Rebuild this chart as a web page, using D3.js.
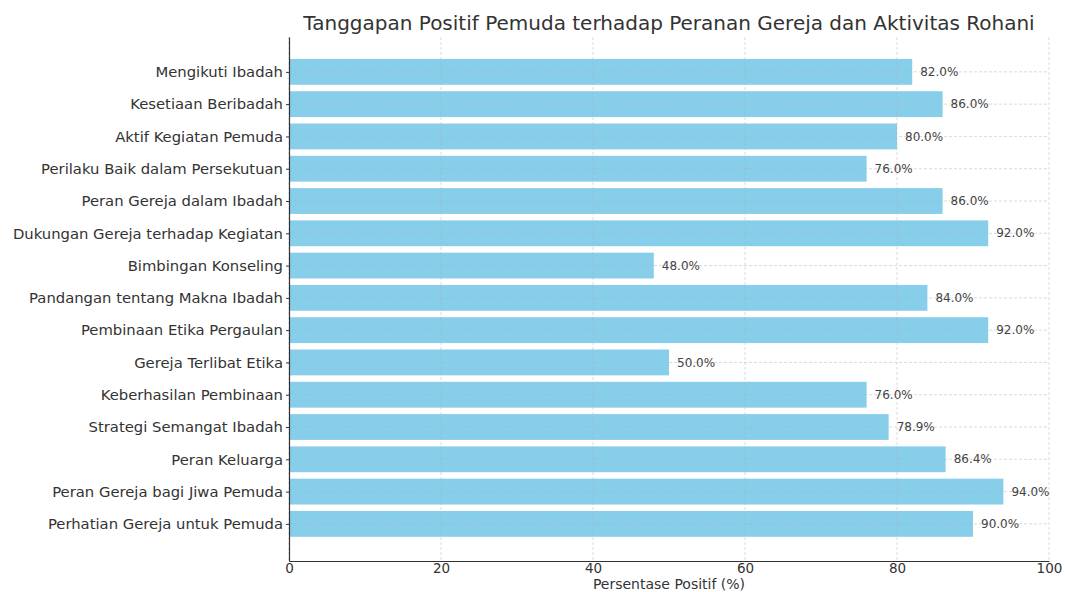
<!DOCTYPE html>
<html>
<head>
<meta charset="utf-8">
<script src="https://cdn.jsdelivr.net/npm/d3@7"></script>
<style>
  body { margin: 0; background: #fff; }
  svg, svg text { font-family: "DejaVu Sans", sans-serif; }
</style>
</head>
<body>
<svg id="chart" width="1065" height="592"></svg>
<script>
const categories = [
  "Mengikuti Ibadah",
  "Kesetiaan Beribadah",
  "Aktif Kegiatan Pemuda",
  "Perilaku Baik dalam Persekutuan",
  "Peran Gereja dalam Ibadah",
  "Dukungan Gereja terhadap Kegiatan",
  "Bimbingan Konseling",
  "Pandangan tentang Makna Ibadah",
  "Pembinaan Etika Pergaulan",
  "Gereja Terlibat Etika",
  "Keberhasilan Pembinaan",
  "Strategi Semangat Ibadah",
  "Peran Keluarga",
  "Peran Gereja bagi Jiwa Pemuda",
  "Perhatian Gereja untuk Pemuda"
];
const values = [82.0, 86.0, 80.0, 76.0, 86.0, 92.0, 48.0, 84.0, 92.0, 50.0, 76.0, 78.9, 86.4, 94.0, 90.0];
const xTicks = [0, 20, 40, 60, 80, 100];

const margin = {top: 37, right: 16, bottom: 31, left: 289};
const svg = d3.select("#chart");
const width = +svg.attr("width");
const height = +svg.attr("height");
const font = "DejaVu Sans, sans-serif";

const data = categories.map((c, i) => ({name: c, value: values[i], idx: i}));

const x = d3.scaleLinear().domain([0, 100]).range([margin.left, width - margin.right]);
const y = d3.scaleLinear().domain([-1.08, categories.length - 1 + 1.15]).range([margin.top, height - margin.bottom]);
const barH = 0.8;

// bars
svg.append("g").selectAll("rect")
  .data(data)
  .join("rect")
  .attr("x", x(0))
  .attr("y", d => y(d.idx - barH / 2))
  .attr("width", d => x(d.value) - x(0))
  .attr("height", d => y(d.idx + barH / 2) - y(d.idx - barH / 2))
  .attr("fill", "#87ceeb");

// grid on top
const grid = svg.append("g").attr("stroke", "#b0b0b0").attr("stroke-opacity", 0.6)
  .attr("stroke-dasharray", "3,2").attr("stroke-width", 0.8);
grid.selectAll(".gx").data(xTicks).join("line")
  .attr("x1", d => x(d)).attr("x2", d => x(d))
  .attr("y1", margin.top).attr("y2", height - margin.bottom);
grid.selectAll(".gy").data(data).join("line")
  .attr("x1", x(0)).attr("x2", x(100))
  .attr("y1", d => y(d.idx)).attr("y2", d => y(d.idx));

// value labels
svg.append("g").selectAll("text")
  .data(data)
  .join("text")
  .attr("x", d => x(d.value) + 8)
  .attr("y", d => y(d.idx))
  .attr("dy", "0.35em")
  .attr("font-family", font)
  .attr("font-size", 12)
  .attr("fill", "#444")
  .text(d => d.value.toFixed(1) + "%");

// x axis
const xAxis = svg.append("g")
  .attr("transform", `translate(0,${height - margin.bottom})`)
  .attr("font-family", font)
  .call(d3.axisBottom(x).tickValues(xTicks).tickSize(0).tickPadding(2).tickSizeOuter(0));
xAxis.selectAll("text").attr("font-size", 13.5).attr("fill", "#333");

// y axis
const yAxis = svg.append("g")
  .attr("transform", `translate(${margin.left},0)`)
  .attr("font-family", font)
  .call(d3.axisLeft(y).tickValues(d3.range(categories.length)).tickFormat(i => categories[i]).tickSize(3).tickPadding(3).tickSizeOuter(0));
yAxis.selectAll("text").attr("font-size", 14.8).attr("fill", "#333");

svg.selectAll(".domain").attr("stroke", "#333").attr("stroke-width", 1.2);
svg.selectAll(".tick line").attr("stroke", "#333");

// axis title
svg.append("text")
  .attr("x", (x(0) + x(100)) / 2)
  .attr("y", height - 3.5)
  .attr("text-anchor", "middle")
  .attr("font-family", font)
  .attr("font-size", 14)
  .attr("fill", "#333")
  .text("Persentase Positif (%)");

// title
svg.append("text")
  .attr("x", (x(0) + x(100)) / 2)
  .attr("y", 30)
  .attr("text-anchor", "middle")
  .attr("font-family", font)
  .attr("font-size", 20)
  .attr("fill", "#333")
  .text("Tanggapan Positif Pemuda terhadap Peranan Gereja dan Aktivitas Rohani");
</script>
</body>
</html>
